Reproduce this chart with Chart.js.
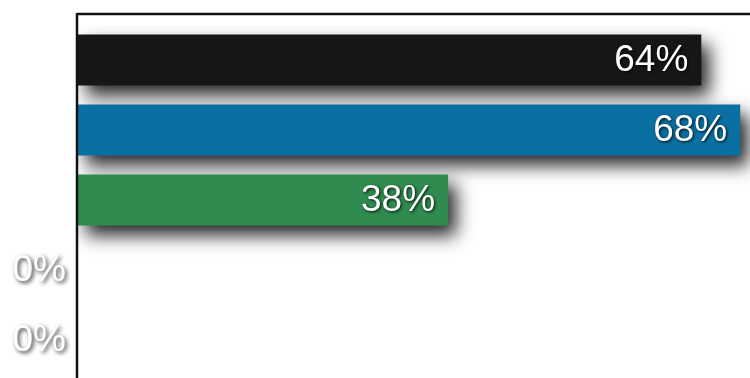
<!DOCTYPE html>
<html>
<head>
<meta charset="utf-8">
<script src="https://cdn.jsdelivr.net/npm/chart.js@4/dist/chart.umd.min.js"></script>
<style>
  html, body { margin: 0; padding: 0; background: #ffffff; overflow: hidden; }
  #wrap { width: 750px; height: 378px; position: relative; }
</style>
</head>
<body>
<div id="wrap"><canvas id="chart" width="750" height="378"></canvas></div>
<script>
// Rows of the chart, top to bottom
const categories = ['Row 1', 'Row 2', 'Row 3', 'Row 4', 'Row 5'];
// Share for each row, in percent
const values = [64, 68, 38, 0, 0];
// Fill colour for each row
const barColors = ['#161616', '#0a6fa2', '#2f8b4f', '#2f8b4f', '#2f8b4f'];

const LABEL_FONT = '37px "Liberation Sans", Arial, sans-serif';

// White page behind the plot
const backgroundPlugin = {
  id: 'pageBackground',
  beforeDraw(chart) {
    const ctx = chart.ctx;
    ctx.save();
    ctx.fillStyle = '#ffffff';
    ctx.fillRect(0, 0, chart.width, chart.height);
    ctx.restore();
  }
};

// Soft drop shadow under every bar
const barShadowPlugin = {
  id: 'barShadow',
  beforeDatasetsDraw(chart) {
    const ctx = chart.ctx;
    ctx.save();
    ctx.shadowColor = 'rgba(0,0,0,0.85)';
    ctx.shadowBlur = 18;
    ctx.shadowOffsetX = 8;
    ctx.shadowOffsetY = 10;
  },
  afterDatasetsDraw(chart) {
    chart.ctx.restore();
  }
};

// Percentage labels: inside the bar end, or left of the axis for empty rows
const valueLabelPlugin = {
  id: 'valueLabels',
  afterDatasetsDraw(chart) {
    const ctx = chart.ctx;
    const area = chart.chartArea;
    const meta = chart.getDatasetMeta(0);
    ctx.save();
    ctx.font = LABEL_FONT;
    ctx.textAlign = 'right';
    ctx.textBaseline = 'middle';
    meta.data.forEach((bar, i) => {
      const v = values[i];
      const text = v + '%';
      if (v > 0) {
        ctx.shadowColor = 'rgba(0,0,0,0.9)';
        ctx.shadowBlur = 3;
        ctx.shadowOffsetX = 1;
        ctx.shadowOffsetY = 1;
        ctx.fillStyle = '#ffffff';
        ctx.fillText(text, bar.x - 13, bar.y + 1);
      } else {
        ctx.shadowColor = 'rgba(0,0,0,0.8)';
        ctx.shadowBlur = 4;
        ctx.shadowOffsetX = 2;
        ctx.shadowOffsetY = 2;
        ctx.fillStyle = '#ffffff';
        ctx.fillText(text, area.left - 12, bar.y + 1);
      }
    });
    ctx.restore();
  }
};

// Frame: rule across the top and the vertical axis line on the left
const framePlugin = {
  id: 'frame',
  afterDraw(chart) {
    const ctx = chart.ctx;
    const area = chart.chartArea;
    const topY = area.top - 11;
    ctx.save();
    ctx.strokeStyle = '#111111';
    ctx.lineWidth = 2.5;
    ctx.beginPath();
    ctx.moveTo(area.left - 1, topY);
    ctx.lineTo(chart.width, topY);
    ctx.moveTo(area.left - 1, topY - 1);
    ctx.lineTo(area.left - 1, chart.height);
    ctx.stroke();
    ctx.restore();
  }
};

new Chart(document.getElementById('chart'), {
  type: 'bar',
  data: {
    labels: categories,
    datasets: [{
      data: values,
      backgroundColor: barColors,
      borderWidth: 0,
      categoryPercentage: 1.0,
      barPercentage: 0.73
    }]
  },
  options: {
    indexAxis: 'y',
    responsive: false,
    animation: false,
    devicePixelRatio: 1,
    layout: { padding: { left: 78, top: 25, right: 0, bottom: 3 } },
    scales: {
      x: { display: false, min: 0, max: 69 },
      y: { display: false, offset: true, grid: { display: false } }
    },
    plugins: {
      legend: { display: false },
      tooltip: { enabled: false },
      title: { display: false }
    }
  },
  plugins: [backgroundPlugin, barShadowPlugin, valueLabelPlugin, framePlugin]
});
</script>
</body>
</html>
